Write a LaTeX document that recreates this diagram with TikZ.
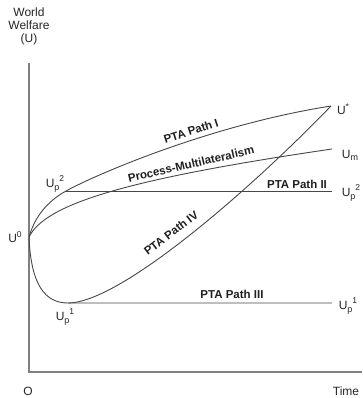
\documentclass[tikz,border=0pt]{standalone}
\usepackage{fontspec}
\setmainfont{Liberation Sans}
\newcommand{\Usp}[2]{U\raisebox{-0.35ex}{\fontsize{9}{9}\selectfont #1}\raisebox{0.95ex}{\fontsize{8.5}{9}\selectfont #2}}
\begin{document}
\begin{tikzpicture}[x=1pt,y=-1pt,
  axis/.style={draw=black!50, line width=1.4pt},
  curve/.style={draw=black!72, line width=0.9pt},
  lab/.style={font=\fontsize{12}{13}\selectfont, text=black!85, inner sep=0pt},
  plab/.style={font=\bfseries\fontsize{11.5}{12}\selectfont, text=black!88, inner sep=0pt}]
\useasboundingbox (0,0) rectangle (362,398);
% axes
\coordinate (O) at (29,372);
\coordinate (Ytop) at (29,63);
\coordinate (Xend) at (362,372);
\draw[axis] (Ytop) -- (O) -- (Xend);
% key points
\coordinate (U0) at (29,237);
\coordinate (Ustar) at (331,106);
\coordinate (Um) at (332,149);
\coordinate (Up2a) at (66,191);
\coordinate (Up2b) at (332,191);
\coordinate (Up1a) at (68,303);
\coordinate (Up1b) at (332,303);
% PTA Path I
\draw[curve] (U0) .. controls (35,216) and (48,201) .. (Up2a)
  .. controls (95,175) and (210,125) .. (Ustar);
% Process-Multilateralism
\draw[curve] (U0) .. controls (45,205) and (120,180) .. (Um);
% PTA Path II
\draw[curve] (Up2a) -- (Up2b);
% PTA Path III
\draw[curve] (U0) .. controls (31,285) and (45,303) .. (Up1a) -- (Up1b);
% PTA Path IV
\draw[curve] (Up1a) .. controls (120,303) and (250,190) .. (Ustar);
% axis labels
\node[lab, align=center] (ylab) at (29,26) {World\\Welfare\\(U)};
\node[lab] (olab) at (28,391) {O};
\node[lab] (tlab) at (346,391) {Time};
% point labels
\node[lab] (u0lab) at (15,237) {U\raisebox{0.8ex}{\fontsize{8.5}{9}\selectfont 0}};
\node[lab] (ustarlab) at (343,109) {U\raisebox{0.9ex}{\fontsize{8.5}{9}\selectfont *}};
\node[lab] (umlab) at (350,155) {U\raisebox{-0.35ex}{\fontsize{9}{9}\selectfont m}};
\node[lab] (up2r) at (351,193) {\Usp{p}{2}};
\node[lab] (up1r) at (348,306) {\Usp{p}{1}};
\node[lab] (up2l) at (55,184) {\Usp{p}{2}};
\node[lab] (up1l) at (65,317) {\Usp{p}{1}};
% path labels
\node[plab, rotate=18] (p1) at (191,131) {PTA Path I};
\node[plab, rotate=13] (pm) at (191,164) {Process-Multilateralism};
\node[plab] (p2) at (297,184) {PTA Path II};
\node[plab] (p3) at (232,294) {PTA Path III};
\node[plab, rotate=37] (p4) at (171,233) {PTA Path IV};
\end{tikzpicture}
\end{document}
